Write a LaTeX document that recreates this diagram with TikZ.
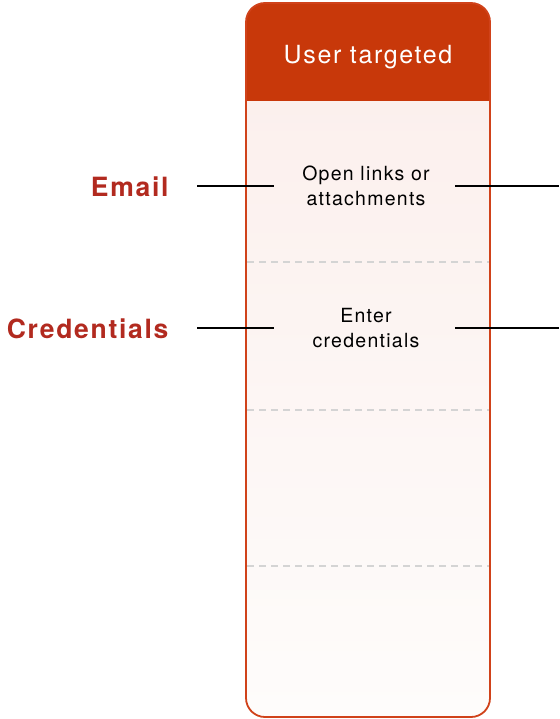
\documentclass[tikz,border=0pt]{standalone}
\usepackage{fontspec}
\setmainfont{TeX Gyre Heros}[LetterSpace=6.5]
\usetikzlibrary{positioning}
\definecolor{hdr}{RGB}{200,56,10}
\definecolor{rim}{RGB}{208,66,26}
\definecolor{lbl}{RGB}{178,42,31}
\definecolor{topfill}{RGB}{251,238,235}
\definecolor{botfill}{RGB}{254,252,251}
\definecolor{sepgray}{RGB}{212,212,212}

\begin{document}
\begin{tikzpicture}[x=1pt,y=-1pt]
    \useasboundingbox (0,0) rectangle (559,719);
    % column body
    \fill[top color=topfill, bottom color=botfill, rounded corners=19pt] (246,3) rectangle (490,717);
    \foreach \y in {262,410,566}
        \draw[sepgray, dash pattern=on 7pt off 5pt, line width=1.2pt] (247,\y)--(489,\y);
    % header
    \fill[hdr, rounded corners=19pt] (246,3) rectangle (490,101);
    \fill[hdr] (246,60) rectangle (490,101);
    \draw[rim, line width=1.8pt, rounded corners=19pt] (246,3) rectangle (490,717);
    \node[white, font=\fontsize{25}{30}\selectfont] (head) at (368,57) {User targeted};
    % steps
    \node[align=center, font=\fontsize{19.5}{25}\selectfont] (open) at (366,186) {Open links or\\attachments};
    \node[align=center, font=\fontsize{19.5}{25}\selectfont] (enter) at (366,328) {Enter\\credentials};
    % labels
    \node[lbl, anchor=east, font=\bfseries\fontsize{26.5}{30}\selectfont] (email) at (172,187) {Email};
    \node[lbl, anchor=east, font=\bfseries\fontsize{26.5}{30}\selectfont] (cred) at (172,329) {Credentials};
    \coordinate (emailL) at (197,186);
    \coordinate (emailR) at (274,186);
    \coordinate (openR) at (455,186);
    \coordinate (openO) at (559,186);
    \coordinate (credL) at (197,328);
    \coordinate (credR) at (274,328);
    \coordinate (enterR) at (455,328);
    \coordinate (enterO) at (559,328);
    \draw[line width=1.5pt] (emailL)--(emailR);
    \draw[line width=1.5pt] (openR)--(openO);
    \draw[line width=1.5pt] (credL)--(credR);
    \draw[line width=1.5pt] (enterR)--(enterO);
\end{tikzpicture}
\end{document}
